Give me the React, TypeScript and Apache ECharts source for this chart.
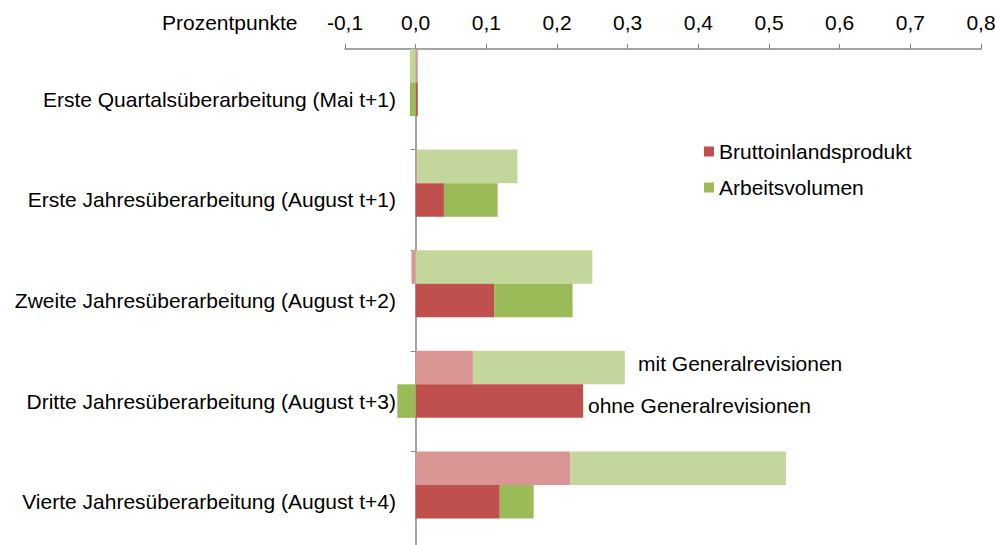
import React, { useEffect, useRef } from "react";
import * as echarts from "echarts";

const categories = [
  "Erste Quartalsüberarbeitung (Mai t+1)",
  "Erste Jahresüberarbeitung (August t+1)",
  "Zweite Jahresüberarbeitung (August t+2)",
  "Dritte Jahresüberarbeitung (August t+3)",
  "Vierte Jahresüberarbeitung (August t+4)",
];

// mit Generalrevisionen (upper, light bars)
const bipMit = [0.003, 0.002, -0.006, 0.081, 0.219];
const avMit = [-0.008, 0.142, 0.25, 0.215, 0.305];
// ohne Generalrevisionen (lower, dark bars)
const bipOhne = [0.003, 0.04, 0.111, 0.237, 0.119];
const avOhne = [-0.008, 0.076, 0.111, -0.026, 0.048];
const emptySlot = [null, null, null, null, null];

const xMin = -0.1;
const xMax = 0.8;
const xStep = 0.1;

const FONT = "'Liberation Sans', Arial, sans-serif";
const FS = 21;

export default function App() {
  const ref = useRef<HTMLDivElement>(null);
  useEffect(() => {
    document.body.style.margin = "0";
    document.body.style.overflow = "hidden";
    if (!ref.current) return;
    const chart = echarts.init(ref.current, null, { renderer: "svg" });
    const axisColor = "#868686";
    chart.setOption({
      animation: false,
      textStyle: { fontFamily: FONT },
      grid: {
        left: 345,
        right: 14,
        top: 49,
        height: 503,
        containLabel: false,
        outerBoundsMode: "none",
      },
      legend: {
        data: ["Bruttoinlandsprodukt", "Arbeitsvolumen"],
        orient: "vertical",
        left: 704,
        top: 141,
        padding: 0,
        itemWidth: 10,
        itemHeight: 10,
        itemGap: 15,
        itemStyle: { borderWidth: 0 },
        icon: "rect",
        textStyle: { fontFamily: FONT, fontSize: FS, color: "#000" },
        selectedMode: false,
      },
      xAxis: {
        type: "value",
        position: "top",
        min: xMin,
        max: xMax,
        interval: xStep,
        splitLine: { show: false },
        axisLine: { show: true, lineStyle: { color: axisColor, width: 1.5 } },
        axisTick: { show: true, length: 5, lineStyle: { color: axisColor } },
        axisLabel: {
          fontFamily: FONT,
          fontSize: FS,
          color: "#000",
          margin: 16,
          formatter: (v: number) => v.toFixed(1).replace(".", ","),
        },
      },
      yAxis: {
        type: "category",
        inverse: true,
        data: categories,
        axisLine: { show: true, onZero: true, lineStyle: { color: axisColor, width: 1.5 } },
        axisTick: { show: true, length: 5, lineStyle: { color: axisColor } },
        axisLabel: { fontFamily: FONT, fontSize: FS, color: "#000", margin: -51 },
      },
      graphic: [
        {
          type: "text",
          x: 162,
          y: 22,
          z: 100,
          style: {
            text: "Prozentpunkte",
            font: `${FS}px ${FONT}`,
            fill: "#000",
            verticalAlign: "middle",
          },
        },
        {
          type: "text",
          x: 638,
          y: 363,
          z: 100,
          style: {
            text: "mit Generalrevisionen",
            font: `${FS}px ${FONT}`,
            fill: "#000",
            verticalAlign: "middle",
          },
        },
        {
          type: "text",
          x: 588,
          y: 405,
          z: 100,
          style: {
            text: "ohne Generalrevisionen",
            font: `${FS}px ${FONT}`,
            fill: "#000",
            verticalAlign: "middle",
          },
        },
      ],
      series: [
        {
          name: "BIP mit Generalrevisionen",
          type: "bar",
          stack: "mit",
          data: bipMit,
          itemStyle: { color: "#D99694" },
          barGap: "0%",
          barCategoryGap: "0%",
        },
        {
          name: "Arbeitsvolumen mit Generalrevisionen",
          type: "bar",
          stack: "mit",
          data: avMit,
          itemStyle: { color: "#C3D69B" },
        },
        {
          name: "Bruttoinlandsprodukt",
          type: "bar",
          stack: "ohne",
          data: bipOhne,
          itemStyle: { color: "#C0504D" },
        },
        {
          name: "Arbeitsvolumen",
          type: "bar",
          stack: "ohne",
          data: avOhne,
          itemStyle: { color: "#9BBB59" },
        },
        {
          name: "leer",
          type: "bar",
          stack: "leer",
          data: emptySlot,
        },
      ],
    });
    return () => chart.dispose();
  }, []);
  return <div ref={ref} style={{ width: 995, height: 545 }} />;
}
